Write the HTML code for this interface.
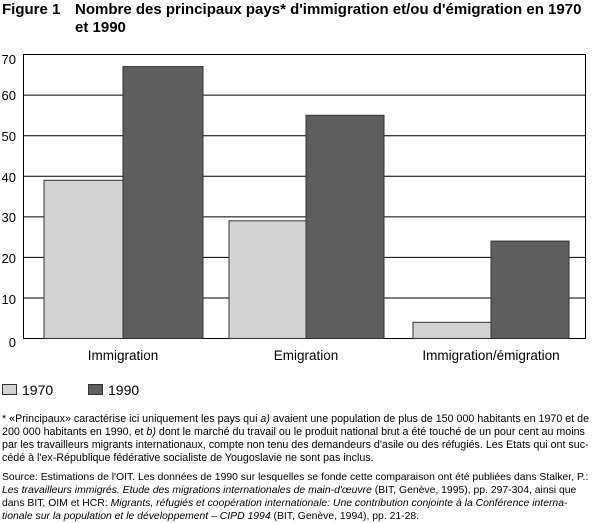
<!DOCTYPE html>
<html><head><meta charset="utf-8"><style>
body{margin:0;width:600px;height:522px;background:#fff;font-family:"Liberation Sans",sans-serif;color:#000;overflow:hidden;position:relative}
.t{position:absolute;white-space:nowrap}
.fn{position:absolute;left:2px;font-size:10.7px;line-height:13px;width:600px;white-space:nowrap}
</style></head><body>
<div class="t" style="left:2px;top:1px;font-weight:bold;font-size:15px;line-height:18px">Figure 1</div>
<div class="t" style="left:75px;top:1px;font-weight:bold;font-size:15px;line-height:18px">Nombre des principaux pays* d'immigration et/ou d'émigration en 1970<br>et 1990</div>
<svg width="600" height="522" style="position:absolute;left:0;top:0" font-family="Liberation Sans, sans-serif">
<g stroke="#000" stroke-width="1" fill="none">
<rect x="23.5" y="54.5" width="562" height="284"/>
<line x1="23" x2="586" y1="95.1" y2="95.1"/>
<line x1="23" x2="586" y1="135.7" y2="135.7"/>
<line x1="23" x2="586" y1="176.3" y2="176.3"/>
<line x1="23" x2="586" y1="216.9" y2="216.9"/>
<line x1="23" x2="586" y1="257.4" y2="257.4"/>
<line x1="23" x2="586" y1="298" y2="298"/>
</g>
<g stroke="#333" stroke-width="1">
<rect x="44" y="180.3" width="79" height="158.2" fill="#d3d3d3"/>
<rect x="123" y="66.6" width="80" height="271.9" fill="#5e5e5e"/>
<rect x="229" y="220.8" width="77" height="117.7" fill="#d3d3d3"/>
<rect x="306" y="115.3" width="78" height="223.2" fill="#5e5e5e"/>
<rect x="413" y="322.3" width="78" height="16.2" fill="#d3d3d3"/>
<rect x="491" y="241.1" width="78" height="97.4" fill="#5e5e5e"/>
</g>
<g font-size="13" text-anchor="end">
<text x="16" y="64">70</text><text x="16" y="100">60</text><text x="16" y="141">50</text><text x="16" y="182">40</text><text x="16" y="222">30</text><text x="16" y="263">20</text><text x="16" y="304">10</text><text x="16" y="347">0</text>
</g>
<g font-size="13.5" text-anchor="middle">
<text x="123" y="360">Immigration</text><text x="306" y="360">Emigration</text><text x="491" y="360">Immigration/émigration</text>
</g>
<rect x="2.5" y="384.5" width="14" height="10" fill="#d3d3d3" stroke="#333"/>
<rect x="88.5" y="384.5" width="14" height="10" fill="#5e5e5e" stroke="#333"/>
<text x="22" y="395" font-size="14">1970</text>
<text x="108" y="395" font-size="14">1990</text>
</svg>
<div class="fn" style="top:413px">* «Principaux» caractérise ici uniquement les pays qui <i>a)</i> avaient une population de plus de 150 000 habitants en 1970 et de<br>200 000 habitants en 1990, et <i>b)</i> dont le marché du travail ou le produit national brut a été touché de un pour cent au moins<br>par les travailleurs migrants internationaux, compte non tenu des demandeurs d'asile ou des réfugiés. Les Etats qui ont suc-<br>cédé à l'ex-République fédérative socialiste de Yougoslavie ne sont pas inclus.</div>
<div class="fn" style="top:471px;font-size:10.4px">Source: Estimations de l'OIT. Les données de 1990 sur lesquelles se fonde cette comparaison ont été publiées dans Stalker, P.:<br><i>Les travailleurs immigrés. Etude des migrations internationales de main-d'œuvre</i> (BIT, Genève, 1995), pp. 297-304, ainsi que<br>dans BIT, OIM et HCR: <i>Migrants, réfugiés et coopération internationale: Une contribution conjointe à la Conférence interna-<br>tionale sur la population et le développement – CIPD 1994</i> (BIT, Genève, 1994), pp. 21-28.</div>
</body></html>
